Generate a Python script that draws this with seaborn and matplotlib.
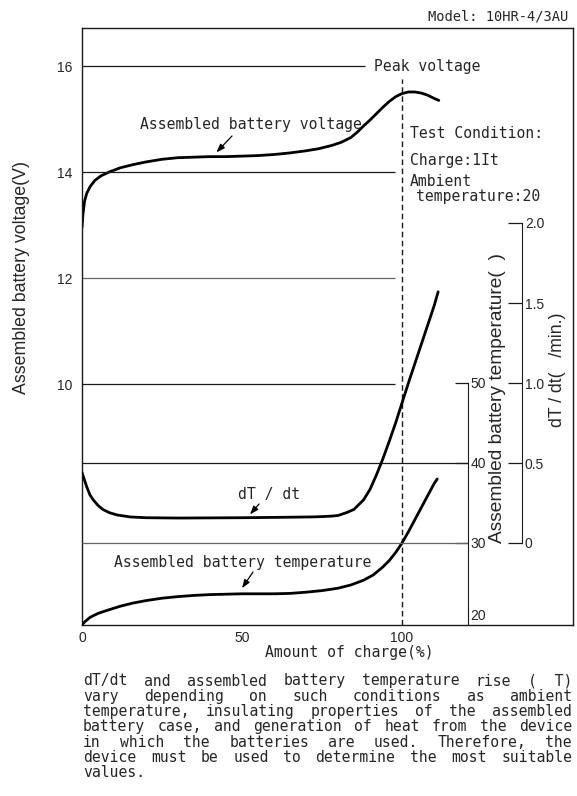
import numpy as np
import matplotlib
matplotlib.use("Agg")
import matplotlib.pyplot as plt
import seaborn as sns

# battery voltage (V) against amount of charge (%)
charge_v = [0, 0.3, 0.8, 1.5, 2.5, 4, 6, 8.5, 12, 16, 20, 25, 30, 35, 40, 45, 50, 55,
            60, 65, 70, 74, 78, 81, 84, 86, 88, 90, 92, 94, 96, 98, 100, 102, 104,
            106, 108, 110, 111.5]
volt = [12.95, 13.2, 13.45, 13.6, 13.72, 13.84, 13.93, 14.0, 14.08, 14.14, 14.19,
        14.24, 14.27, 14.28, 14.29, 14.29, 14.3, 14.31, 14.33, 14.36, 14.4, 14.44,
        14.5, 14.56, 14.65, 14.75, 14.87, 14.98, 15.1, 15.22, 15.33, 15.42, 15.48,
        15.51, 15.51, 15.49, 15.45, 15.39, 15.35]

# battery temperature (deg C)
charge_t = [0, 1, 2.5, 5, 8, 12, 16, 20, 25, 30, 35, 40, 45, 50, 55, 60, 65, 70, 75,
            80, 84, 88, 91, 94, 96, 98, 100, 102, 104, 106, 108, 110, 111]
temp = [19.8, 20.2, 20.7, 21.2, 21.6, 22.1, 22.5, 22.8, 23.1, 23.3, 23.45, 23.55,
        23.6, 23.65, 23.65, 23.65, 23.7, 23.85, 24.05, 24.35, 24.75, 25.35, 26.0,
        27.0, 27.8, 28.8, 30.0, 31.4, 32.9, 34.4, 35.9, 37.4, 38.0]

# dT/dt (deg C / min)
charge_d = [0, 0.5, 1, 1.5, 2.5, 3.5, 5, 6.5, 8.5, 11, 15, 20, 30, 40, 50, 60, 68,
            72, 75, 78, 80, 82.7, 85, 88, 90, 92, 94, 96, 98, 100, 102, 104, 106,
            108, 110, 111.3]
dtdt = [0.44, 0.41, 0.38, 0.35, 0.3, 0.27, 0.235, 0.21, 0.19, 0.175, 0.163, 0.158,
        0.156, 0.157, 0.158, 0.16, 0.162, 0.163, 0.165, 0.168, 0.172, 0.19, 0.21,
        0.27, 0.335, 0.425, 0.525, 0.635, 0.75, 0.875, 1.0, 1.12, 1.24, 1.36, 1.48,
        1.57]

charge_ticks = [0, 50, 100]
volt_ticks = [10, 12, 14, 16]
temp_ticks = [20, 30, 40, 50]
dtdt_ticks = [0, 0.5, 1.0, 1.5, 2.0]
dtdt_labels = ["0", "0.5", "1.0", "1.5", "2.0"]

note = ["dT/dt and assembled battery temperature rise (\u00a0\u00a0T)",
        "vary depending on such conditions as ambient",
        "temperature, insulating properties of the assembled",
        "battery case, and generation of heat from the device",
        "in which the batteries are used. Therefore, the",
        "device must be used to determine the most suitable",
        "values."]

sns.set_style("white")
mono = ["DejaVu Sans Mono"]
narrow = ["Liberation Sans Narrow", "Liberation Sans", "DejaVu Sans"]
sans = ["Liberation Sans", "DejaVu Sans"]
plt.rcParams["font.family"] = mono
ink = "#1a1a1a"

W, H = 577, 796
fig = plt.figure(figsize=(W / 100, H / 100), dpi=100)


def fx(x):
    return x / W


def fy(y):
    return 1 - y / H


ax = fig.add_axes([fx(82), fy(625), (573 - 82) / W, (625 - 28) / H])
ax_t = ax.twinx()
ax_d = ax.twinx()

sns.lineplot(x=charge_v, y=volt, ax=ax, color="black", linewidth=2.0)
sns.lineplot(x=charge_t, y=temp, ax=ax_t, color="black", linewidth=2.0)
sns.lineplot(x=charge_d, y=dtdt, ax=ax_d, color="black", linewidth=2.0)

xmax = (573 - 82) / 3.2
ax.set_xlim(0, xmax)
ax.set_ylim(5.453, 16.717)
ax_t.set_ylim(19.75, 94.375)
ax_d.set_ylim(-0.5125, 3.21875)

# reference lines
ax.hlines(16, 0, 88.4, color=ink, lw=0.9)
ax.hlines([14, 10], 0, 97.8, color=ink, lw=0.9)
ax.hlines(12, 0, 97.8, color="#666666", lw=0.9)
ax_t.hlines(40, 0, 120.6, color=ink, lw=0.9)
ax_t.hlines(30, 0, 120.6, color="#666666", lw=0.9)
ax.vlines(100, 5.453, 15.75, color=ink, lw=1.0, linestyles=(0, (4, 2.5)))

# main frame and left / bottom scales
for s in ax.spines.values():
    s.set_visible(True)
    s.set_color(ink)
    s.set_linewidth(1.0)
ax.set_xticks(charge_ticks)
ax.set_xticks([50], minor=True)
ax.set_yticks(volt_ticks)
ax.tick_params(axis="x", which="major", length=0, pad=4, labelsize=10)
ax.tick_params(axis="x", which="minor", direction="in", length=7, width=0.9, color=ink)
ax.tick_params(axis="y", length=0, pad=7, labelsize=10)
for lab in ax.get_xticklabels() + ax.get_yticklabels():
    lab.set_family(narrow)
ax.set_xlabel("")
ax.set_ylabel("")

# temperature scale
for name in ["left", "top", "bottom"]:
    ax_t.spines[name].set_visible(False)
    ax_d.spines[name].set_visible(False)
ax_t.spines["right"].set_position(("data", 120.6))
ax_t.spines["right"].set_bounds(19.75, 50)
ax_t.spines["right"].set_color(ink)
ax_t.set_yticks(temp_ticks)
ax_t.tick_params(axis="y", direction="in", length=9.5, width=0.9, pad=2,
                 labelsize=10, color=ink)
ax_t.yaxis.get_major_ticks()[0].tick2line.set_visible(False)
ax_t.yaxis.get_major_ticks()[0].label2.set_va("bottom")
for lab in ax_t.get_yticklabels():
    lab.set_family(narrow)
ax_t.set_ylabel("")

# dT/dt scale
ax_d.spines["right"].set_position(("data", 137.5))
ax_d.spines["right"].set_bounds(0, 2)
ax_d.spines["right"].set_color(ink)
ax_d.set_yticks(dtdt_ticks)
ax_d.set_yticklabels(dtdt_labels)
ax_d.tick_params(axis="y", direction="in", length=10, width=0.9, pad=2,
                 labelsize=10, color=ink)
for lab in ax_d.get_yticklabels():
    lab.set_family(narrow)
ax_d.set_ylabel("")

# texts
fs = 10.6
fig.text(fx(568), fy(17), "Model: 10HR-4/3AU", ha="right", va="center", fontsize=9.9)
ax.text(91.25, 16, "Peak voltage", ha="left", va="center", fontsize=fs)
fig.text(fx(410), fy(133), "Test Condition:", va="center", fontsize=fs)
fig.text(fx(410), fy(160), "Charge:1It", va="center", fontsize=fs)
fig.text(fx(410), fy(182), "Ambient", va="center", fontsize=fs)
fig.text(fx(416), fy(196), "temperature:20", va="center", fontsize=fs)

arrow = dict(arrowstyle="-|>,head_length=0.5,head_width=0.18", lw=0.9,
             color="black", shrinkA=0, shrinkB=0)
fig.text(fx(251), fy(125), "Assembled battery voltage", ha="center", va="center", fontsize=fs)
ax.annotate("", xy=(42, np.interp(42, charge_v, volt) + 0.08), xytext=(232, H - 136),
            textcoords="figure pixels", arrowprops=arrow)
fig.text(fx(269), fy(495), "dT / dt", ha="center", va="center", fontsize=fs)
ax_d.annotate("", xy=(52.5, np.interp(52.5, charge_d, dtdt) + 0.02), xytext=(259, H - 504),
              textcoords="figure pixels", arrowprops=arrow)
fig.text(fx(243), fy(562), "Assembled battery temperature", ha="center", va="center", fontsize=fs)
ax_t.annotate("", xy=(50, np.interp(50, charge_t, temp) + 0.7), xytext=(253, H - 572),
              textcoords="figure pixels", arrowprops=arrow)

fig.text(fx(349), fy(652), "Amount of charge(%)", ha="center", va="center", fontsize=fs)
fig.text(fx(22), fy(277), "Assembled battery voltage(V)", rotation=90, ha="center",
         va="center", fontsize=12.8, family=sans)
fig.text(fx(498), fy(398), "Assembled battery temperature(\u00a0\u00a0)", rotation=90,
         ha="center", va="center", fontsize=13.8, family=sans)
fig.text(fx(557), fy(370), "dT / dt(\u00a0\u00a0\u00a0/min.)", rotation=90, ha="center",
         va="center", fontsize=12.8, family=sans)

# justified note below the chart
cw = 0.60205 * fs * 100 / 72
x0, x1 = 83, 572
for i, line in enumerate(note):
    y = fy(681 + i * 15.3)
    words = line.split(" ")
    if i == len(note) - 1 or len(words) == 1:
        fig.text(fx(x0), y, line, va="center", fontsize=fs)
        continue
    chars = sum(len(w) for w in words)
    gap = (x1 - x0 - chars * cw) / (len(words) - 1)
    x = x0
    for w in words:
        fig.text(fx(x), y, w, va="center", fontsize=fs)
        x += len(w) * cw + gap

fig.savefig("out.png", dpi=100, facecolor="white")
